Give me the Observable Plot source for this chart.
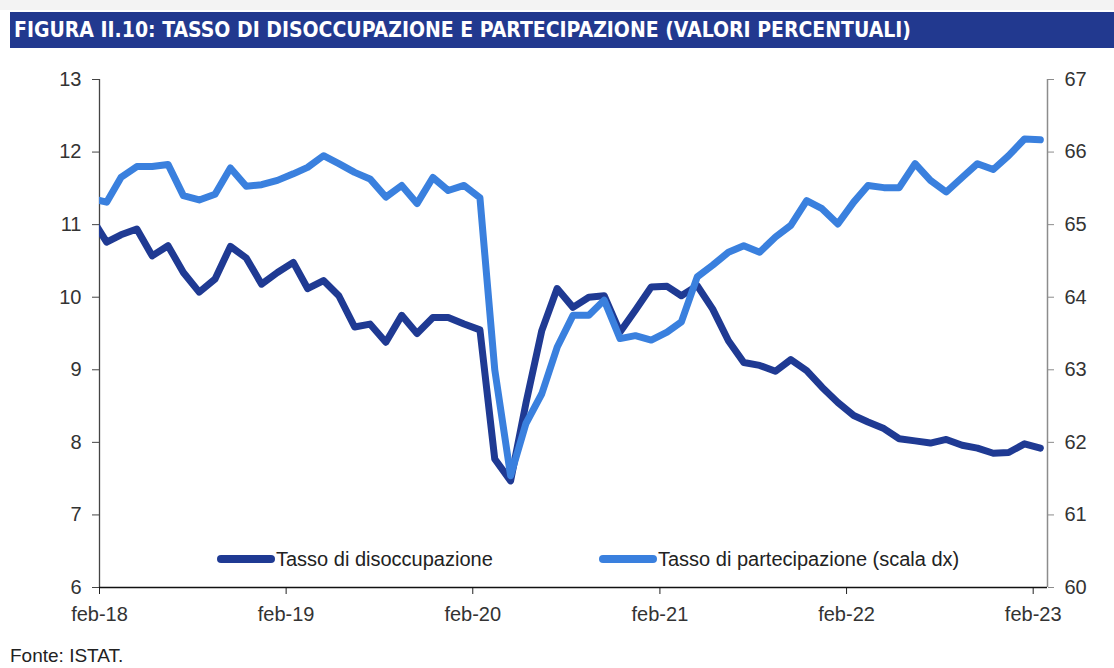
<!DOCTYPE html>
<html><head><meta charset="utf-8">
<script src="https://cdn.jsdelivr.net/npm/d3@7"></script>
<script src="https://cdn.jsdelivr.net/npm/@observablehq/plot@0.6"></script>
<style>
body{margin:0;background:#fff;width:1114px;height:668px;position:relative;overflow:hidden;font-family:"Liberation Sans",Arial,sans-serif;}
#topstrip{position:absolute;left:0;top:0;width:1114px;height:10px;background:#f3f3f3;}
#title{position:absolute;left:10px;top:12px;width:1104px;height:36px;background:#22398f;color:#fff;font-family:"DejaVu Sans Condensed","DejaVu Sans",sans-serif;font-stretch:condensed;font-weight:bold;font-size:21px;line-height:36px;padding-left:4px;box-sizing:border-box;white-space:nowrap;}
#chart{position:absolute;left:0;top:55px;}
.leg{position:absolute;top:547px;font-size:20px;color:#222;line-height:24px;display:flex;align-items:center;white-space:nowrap;}
.sw{display:inline-block;width:58px;height:8px;border-radius:4px;margin-right:1px;}
#source{position:absolute;left:10px;top:645px;font-size:19px;color:#222;}
</style>
</head>
<body>
<div id="topstrip"></div>
<div id="title">FIGURA II.10: TASSO DI DISOCCUPAZIONE E PARTECIPAZIONE (VALORI PERCENTUALI)</div>
<div id="chart"></div>
<div class="leg" style="left:217px"><span class="sw" style="background:#1f3a93"></span>Tasso di disoccupazione</div>
<div class="leg" style="left:599px"><span class="sw" style="background:#3a80de"></span>Tasso di partecipazione (scala dx)</div>
<div id="source">Fonte: ISTAT.</div>
<script>
// Monthly series, gen-18 .. feb-23 (first value lies just left of the axis and is clipped)
const firstMonth = "2018-01";
const unemployment = [
  11.11,
  10.76,10.86,10.94,10.57,10.71,10.34,10.07,10.25,10.70,10.54,10.18,10.34,
  10.48,10.12,10.23,10.02,9.59,9.63,9.38,9.75,9.50,9.72,9.72,9.63,
  9.55,7.77,7.47,8.54,9.54,10.12,9.86,10.00,10.02,9.52,9.82,10.14,
  10.15,10.02,10.16,9.84,9.40,9.10,9.06,8.98,9.14,8.99,8.76,8.55,
  8.37,8.28,8.19,8.05,8.02,7.99,8.04,7.96,7.92,7.85,7.86,7.98,
  7.92
];
const participation = [
  65.36,
  65.31,65.65,65.80,65.80,65.83,65.40,65.34,65.42,65.78,65.53,65.55,65.61,
  65.70,65.79,65.95,65.84,65.72,65.63,65.38,65.54,65.29,65.65,65.47,65.54,
  65.37,63.00,61.54,62.26,62.67,63.31,63.75,63.75,63.96,63.43,63.47,63.41,
  63.52,63.66,64.28,64.44,64.62,64.71,64.62,64.83,64.99,65.33,65.22,65.01,
  65.31,65.54,65.51,65.51,65.84,65.61,65.45,65.65,65.84,65.76,65.95,66.18,
  66.17
];
const leftTicks = [6,7,8,9,10,11,12,13];
const rightTicks = [60,61,62,63,64,65,66,67];
const xTickDates = ["2018-02-01","2019-02-01","2020-02-01","2021-02-01","2022-02-01","2023-02-01"];
const xTickLabels = ["feb-18","feb-19","feb-20","feb-21","feb-22","feb-23"];
const xDomain = ["2018-02-01","2023-03-01"];

const rightOffset = rightTicks[0] - leftTicks[0]; // 54
const start = new Date(firstMonth + "-01T00:00:00Z");
const rows = unemployment.map((u, i) => ({
  date: new Date(Date.UTC(start.getUTCFullYear(), start.getUTCMonth() + i, 15)),
  u,
  p: participation[i] - rightOffset
}));
const xTicks = xTickDates.map(d => new Date(d + "T00:00:00Z"));
const xd = xDomain.map(d => new Date(d + "T00:00:00Z"));

const plot = Plot.plot({
  width: 1114, height: 577,
  marginTop: 24, marginLeft: 99, marginRight: 67, marginBottom: 45,
  style: {fontFamily: "Liberation Sans, Arial, sans-serif", fontSize: "20px", color: "#333", background: "transparent"},
  x: {type: "utc", domain: xd},
  y: {domain: [leftTicks[0], leftTicks[leftTicks.length - 1]]},
  marks: [
    Plot.ruleX([xd[0]], {stroke: "#444", strokeWidth: 1.3}),
    Plot.ruleX([xd[1]], {stroke: "#8c8c8c", strokeWidth: 1.5}),
    Plot.axisY({anchor: "left", ticks: leftTicks, tickFormat: d => String(d), tickSize: 7, tickPadding: 11, stroke: "#444", fill: "#333", label: null, fontSize: 20}),
    Plot.axisY({anchor: "right", ticks: leftTicks, tickFormat: d => String(rightTicks[leftTicks.indexOf(d)]), tickSize: 6, tickPadding: 11, stroke: "#8c8c8c", fill: "#333", label: null, fontSize: 20}),
    Plot.axisX({ticks: xTicks, tickFormat: d => xTickLabels[xTicks.findIndex(t => +t === +d)], tickSize: 7, tickPadding: 12, stroke: "#222", fill: "#333", label: null, fontSize: 20}),
    Plot.lineY(rows, {x: "date", y: "u", stroke: "#1f3a93", strokeWidth: 7, strokeLinejoin: "round", strokeLinecap: "round", clip: true}),
    Plot.lineY(rows, {x: "date", y: "p", stroke: "#3a80de", strokeWidth: 7, strokeLinejoin: "round", strokeLinecap: "round", clip: true}),
    Plot.ruleY([leftTicks[0]], {stroke: "#111", strokeWidth: 1.5})
  ]
});
document.getElementById("chart").appendChild(plot);
</script>
</body></html>
